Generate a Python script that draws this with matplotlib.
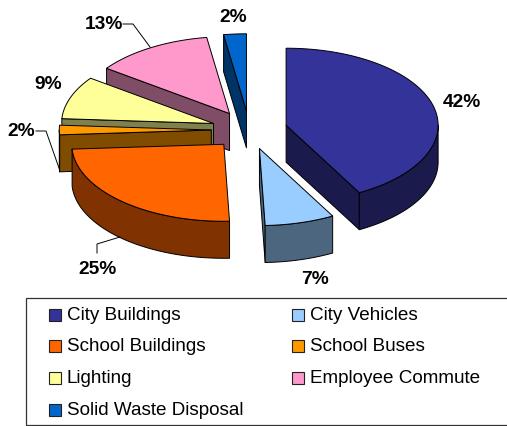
import numpy as np
import matplotlib
matplotlib.use('Agg')
import matplotlib.pyplot as plt
from matplotlib.colors import to_rgb
from matplotlib.patches import Polygon, Rectangle

plt.rcParams['font.family'] = ['Liberation Sans', 'DejaVu Sans']

categories = ['City Buildings', 'City Vehicles', 'School Buildings', 'School Buses',
              'Lighting', 'Employee Commute', 'Solid Waste Disposal']
values = [42, 7.4, 24.6, 2, 9, 12.6, 2.4]
colors = ['#333399', '#99CCFF', '#FF6600', '#FF9900', '#FFFF99', '#FF99CC', '#0066CC']

# pie geometry, in pixels
cx, cy = 249.3, 130
rx, ry = 152, 77
depth = 37
explode = 0.25
draw_order = [6, 5, 4, 3, 2, 0, 1]  # back to front

# label text, label position, leader line
labels = [('42%', 462, 102.5, None),
          ('7%', 314.5, 279.5, None),
          ('25%', 97.5, 269.5, [(120, 237), (97, 244), (97, 253)]),
          ('2%', 21, 132, [(59, 168), (46, 131), (36, 131)]),
          ('9%', 48, 84.5, None),
          ('13%', 104, 24.5, [(150, 47), (133, 24), (123, 24)]),
          ('2%', 233, 17, None)]

fig = plt.figure(figsize=(5.07, 4.26), dpi=100)
ax = fig.add_axes([0, 0, 1, 1])
ax.set_xlim(0, 507)
ax.set_ylim(426, 0)
ax.axis('off')


def rim(theta, ox, oy):
    return np.column_stack([ox + rx * np.sin(theta), oy - ry * np.cos(theta)])


def extrude(points):
    return np.vstack([points, (points + [0, depth])[::-1]])


total = sum(values)
edges = np.cumsum([0] + values) / total * 2 * np.pi

for i in draw_order:
    t0, t1 = edges[i], edges[i + 1]
    mid = (t0 + t1) / 2
    ox = cx + explode * rx * np.sin(mid)
    oy = cy - explode * ry * np.cos(mid)
    side = tuple(c * 0.5 for c in to_rgb(colors[i]))
    style = dict(facecolor=side, edgecolor='black', linewidth=0.7, joinstyle='round')

    # cut faces, only the ones turned towards the viewer
    if np.sin(t0) < -1e-6:
        ax.add_patch(Polygon(extrude(np.vstack([[ox, oy], rim(np.array([t0]), ox, oy)])), **style))
    if np.sin(t1) > 1e-6:
        ax.add_patch(Polygon(extrude(np.vstack([[ox, oy], rim(np.array([t1]), ox, oy)])), **style))

    # outer wall, front half only
    a, b = max(t0, np.pi / 2), min(t1, 3 * np.pi / 2)
    if b > a:
        ax.add_patch(Polygon(extrude(rim(np.linspace(a, b, 80), ox, oy)), **style))

    # top surface
    top = np.vstack([[ox, oy], rim(np.linspace(t0, t1, 120), ox, oy)])
    ax.add_patch(Polygon(top, facecolor=colors[i], edgecolor='black', linewidth=0.7))

for text, x, y, leader in labels:
    ax.text(x, y, text, fontsize=13.8, fontweight='bold', ha='center', va='center', color='black')
    if leader:
        ax.plot(*zip(*leader), color='black', lw=0.7)

# legend
ax.add_patch(Rectangle((25.5, 297.5), 490, 127, facecolor='white', edgecolor='#333333', linewidth=0.9))
legend_rows = [[0, 1], [2, 3], [4, 5], [6]]
for r, row in enumerate(legend_rows):
    y = 314.5 + r * 31.7
    for c, i in enumerate(row):
        x = 48.5 + c * 243
        ax.add_patch(Rectangle((x, y - 6), 12, 12, facecolor=colors[i], edgecolor='#222222', linewidth=0.8))
        ax.text(x + 18.5, y + 0.5, categories[i], fontsize=13.6, ha='left', va='center', color='black')

fig.savefig('out.png', dpi=100)
